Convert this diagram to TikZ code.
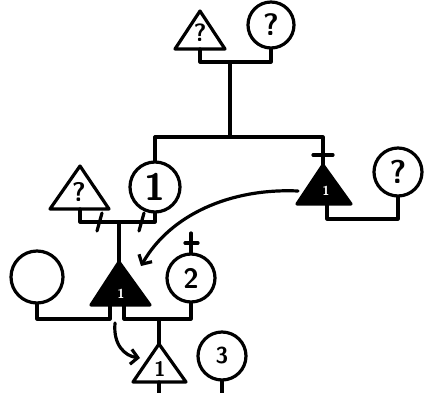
\documentclass[tikz,border=0pt]{standalone}
\usetikzlibrary{arrows.meta}
\begin{document}
\begin{tikzpicture}[x=1pt,y=-1pt,
  ln/.style={line width=3.2pt, line join=round, line cap=round},
  per/.style={circle, draw, line width=3.2pt, inner sep=0pt},
  tri/.style={line width=3.2pt, line join=round, fill=white},
  btri/.style={line width=3.2pt, line join=round, fill=black},
  lbl/.style={inner sep=0pt},
  arr/.style={ln, -{Straight Barb[length=7pt, width=15pt]}}]
\useasboundingbox[fill=white] (0,0) rectangle (426,393);
\newcommand{\fs}[1]{\fontsize{#1}{#1}\selectfont\sffamily\bfseries}

% generation 0
\draw[tri] (200,11) -- (175,49) -- (225,49) -- cycle;
\node[lbl, font=\fs{25}] (T0) at (200,33) {?};
\coordinate (T0b) at (200,49);
\node[per, minimum size=46pt, font=\fs{31}] (C0) at (271,25) {?};
\coordinate (J0) at (230,62);
\coordinate (S1) at (230,137);
\draw[ln] (T0b) -- (T0b |- J0) -- (C0.south |- J0) -- (C0.south);
\draw[ln] (J0) -- (S1);

% generation 1
\node[per, minimum size=50pt, font=\fs{38}] (C1) at (155,187) {1};
\coordinate (B1a) at (323,165);
\draw[btri] (B1a) -- (297,204) -- (351,204) -- cycle;
\node[lbl, text=white, font=\fs{13}] (B1) at (326,191) {1};
\draw[ln] (C1.north) -- (C1.north |- S1) -- (B1a |- S1) -- (B1a);
\draw[ln] (313,155) -- (333,155);
\node[per, minimum size=48pt, font=\fs{33}] (C2) at (398,172) {?};
\coordinate (B1b) at (327,204);
\draw[ln] (B1b) -- (327,219) -- (C2.south |- 0,219) -- (C2.south);

\draw[tri] (80,166) -- (50,209) -- (109,209) -- cycle;
\node[lbl, font=\fs{27}] (T1) at (79,192) {?};
\coordinate (T1b) at (80,209);
\coordinate (J1) at (119,222);
\draw[ln] (T1b) -- (T1b |- J1) -- (C1.south |- J1) -- (C1.south);
\draw[ln] (102,213) -- (97,231);
\draw[ln] (144,213) -- (139,231);

% generation 2
\coordinate (B2a) at (119,262);
\draw[ln] (J1) -- (B2a);
\draw[btri] (B2a) -- (91,305) -- (150,305) -- cycle;
\node[lbl, text=white, font=\fs{13}] (B2) at (121,294) {1};
\node[per, minimum size=52pt] (C3) at (37,277) {};
\draw[ln] (C3.south) -- (37,319) -- (110,319) -- (110,305);
\node[per, minimum size=48pt, font=\fs{28}] (C4) at (191,278) {2};
\draw[ln] (124,305) -- (124,319) -- (C4.south |- 0,319) -- (C4.south);
\draw[ln] (C4.north) -- (191,233);
\draw[ln] (185,243) -- (198,243);

% generation 3
\coordinate (J2) at (159,319);
\coordinate (T2a) at (159,344);
\draw[ln] (J2) -- (T2a);
\draw[tri] (T2a) -- (133,382) -- (186,382) -- cycle;
\node[lbl, font=\fs{21}] (T2) at (160,369) {1};
\draw[ln] (159,382) -- (159,398);
\node[per, minimum size=48pt, font=\fs{23}] (C5) at (222,356) {3};
\draw[ln] (C5.south) -- (222,398);

% arrows
\coordinate (A1s) at (298,191);
\coordinate (A1e) at (141,266);
\draw[arr] (A1s) .. controls (230,188) and (170,215) .. (A1e);
\coordinate (A2s) at (115,323);
\coordinate (A2e) at (140,358);
\draw[arr] (A2s) .. controls (113,345) and (125,356) .. (A2e);
\end{tikzpicture}
\end{document}
